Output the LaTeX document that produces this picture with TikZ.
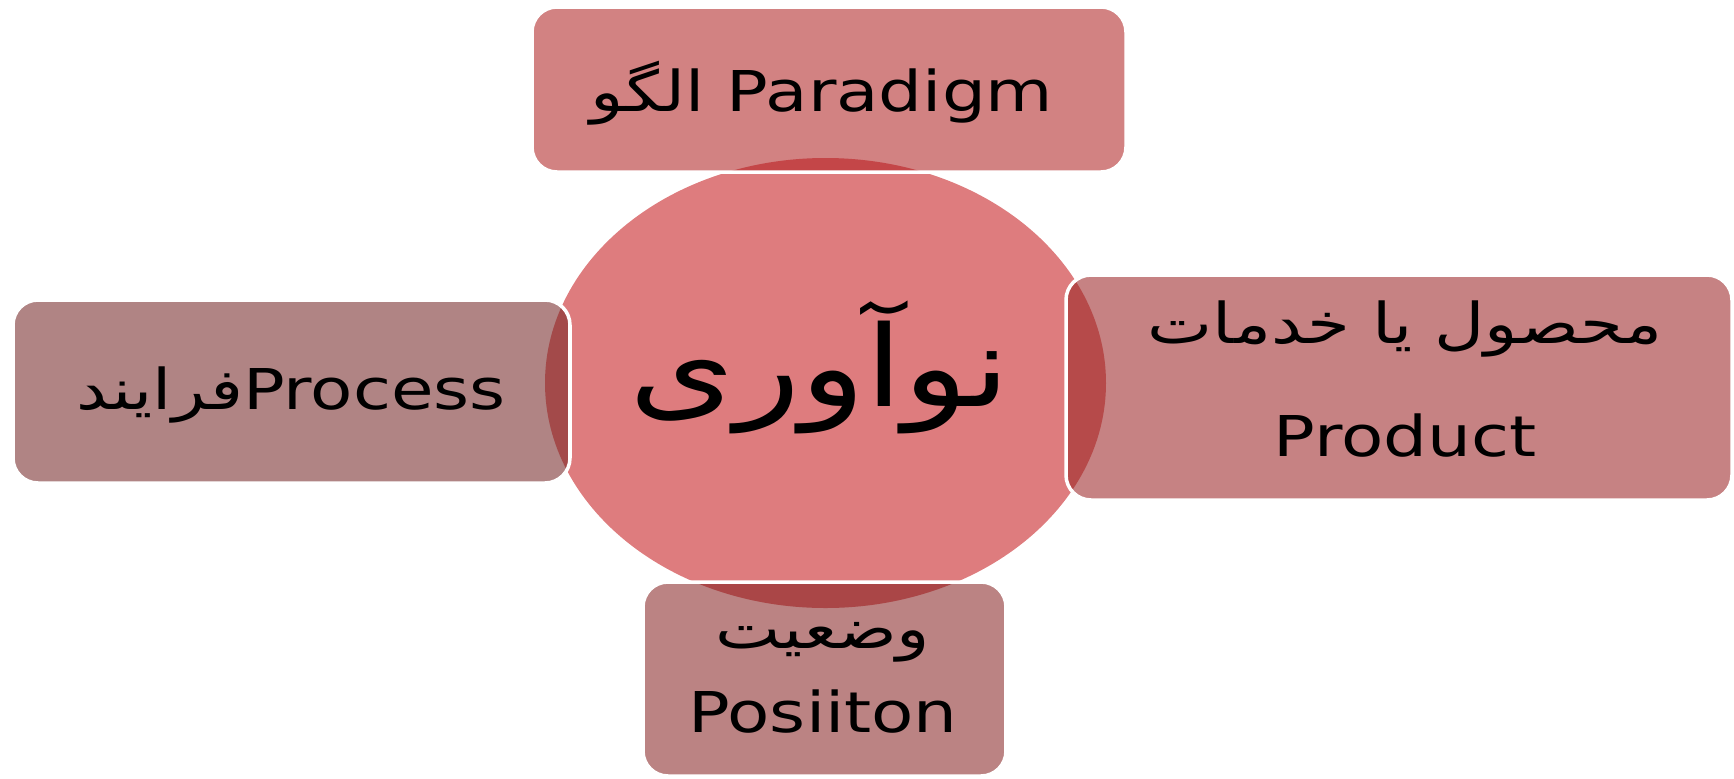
\documentclass[tikz,border=0pt]{standalone}
\usepackage{fontspec}
\setmainfont{DejaVu Sans}
\newfontfamily\fafont[Script=Arabic]{DejaVu Sans}
\TeXXeTstate=1
\definecolor{hub}{HTML}{DE7C7E}
\definecolor{topbox}{HTML}{D28282}
\definecolor{topdark}{HTML}{C44648}
\definecolor{leftbox}{HTML}{B08484}
\definecolor{leftdark}{HTML}{A34A4A}
\definecolor{rightbox}{HTML}{C68283}
\definecolor{rightdark}{HTML}{B64A4A}
\definecolor{lowbox}{HTML}{BB8383}
\definecolor{lowdark}{HTML}{AA4647}

\begin{document}
\begin{tikzpicture}[
        box/.style={rounded corners=0.25cm},
        rim/.style={draw=white, line width=1pt},
        lbl/.style={font=\fontsize{16}{19}\selectfont, xscale=1.23, inner sep=0pt, anchor=base},
        big/.style={font=\fontsize{32}{38}\selectfont, xscale=1.2, inner sep=0pt, anchor=base}
    ]
        \useasboundingbox (0,0) rectangle (17.34,7.78);
        \coordinate (hubc) at (8.255,3.95);
        \fill[hub] (hubc) ellipse [x radius=2.805, y radius=2.25];

        \fill[topbox, box] (5.32,6.06) rectangle (11.26,7.71);
        \begin{scope}
            \clip[box] (5.32,6.06) rectangle (11.26,7.71);
            \fill[topdark] (hubc) ellipse [x radius=2.805, y radius=2.25];
        \end{scope}
        \draw[rim, box] (5.32,6.06) rectangle (11.26,7.71);

        \fill[leftbox, box] (0.13,2.95) rectangle (5.70,4.78);
        \begin{scope}
            \clip[box] (0.13,2.95) rectangle (5.70,4.78);
            \fill[leftdark] (hubc) ellipse [x radius=2.805, y radius=2.25];
        \end{scope}
        \draw[rim, box] (0.13,2.95) rectangle (5.70,4.78);

        \fill[rightbox, box] (10.66,2.78) rectangle (17.32,5.03);
        \begin{scope}
            \clip[box] (10.66,2.78) rectangle (17.32,5.03);
            \fill[rightdark] (hubc) ellipse [x radius=2.805, y radius=2.25];
        \end{scope}
        \draw[rim, box] (10.66,2.78) rectangle (17.32,5.03);

        \fill[lowbox, box] (6.43,0.02) rectangle (10.06,1.96);
        \begin{scope}
            \clip[box] (6.43,0.02) rectangle (10.06,1.96);
            \fill[lowdark] (hubc) ellipse [x radius=2.805, y radius=2.25];
        \end{scope}
        \draw[rim, box] (6.43,0.02) rectangle (10.06,1.96);

        \node[big] (noavari) at (8.20,3.72) {\fafont\beginR نوآوری\endR};
        \node[lbl] (paradigm) at (8.22,6.67) {{\fafont\beginR الگو\endR} Paradigm};
        \node[lbl] (process) at (2.91,3.69) {{\fafont\beginR فرایند\endR}Process};
        \node[lbl] (productfa) at (14.05,4.35) {\fafont\beginR محصول یا خدمات\endR};
        \node[lbl] (product) at (14.05,3.22) {Product};
        \node[lbl] (positionfa) at (8.23,1.30) {\fafont\beginR وضعیت\endR};
        \node[lbl] (position) at (8.23,0.46) {Posiiton};
\end{tikzpicture}
\end{document}
